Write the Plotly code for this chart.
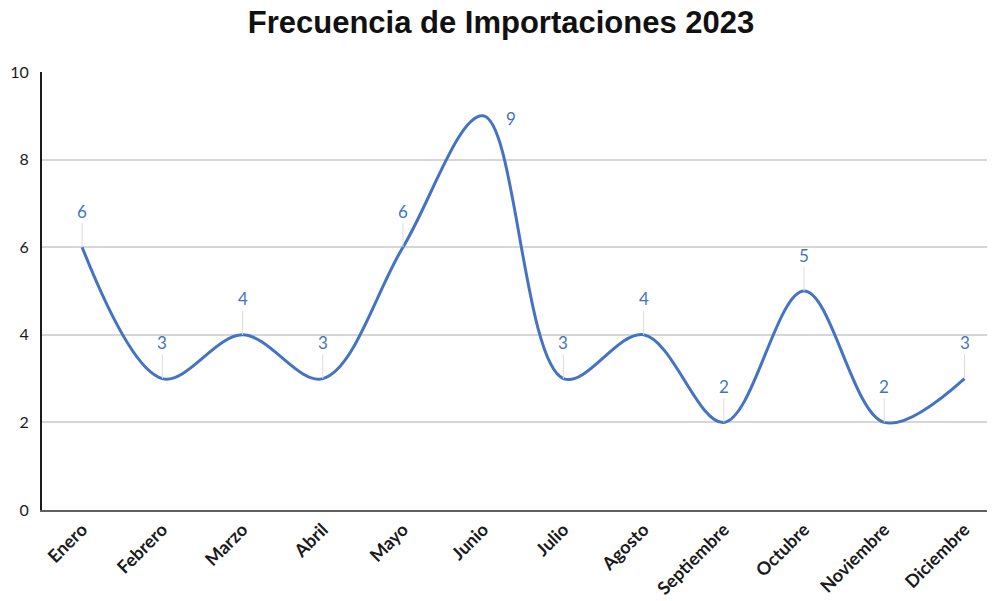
import plotly.graph_objects as go

months = ["Enero", "Febrero", "Marzo", "Abril", "Mayo", "Junio", "Julio",
          "Agosto", "Septiembre", "Octubre", "Noviembre", "Diciembre"]
values = [6, 3, 4, 3, 6, 9, 3, 4, 2, 5, 2, 3]
y_ticks = [0, 2, 4, 6, 8, 10]

BLUE = "#4472C4"

fig = go.Figure()
fig.add_trace(go.Scatter(
    x=months, y=values, mode="lines",
    line=dict(color=BLUE, width=3, shape="spline", smoothing=1.0),
    hoverinfo="x+y", showlegend=False,
))

annotations = []
for m, v in zip(months, values):
    if m == "Junio":
        annotations.append(dict(x=m, y=v, xref="x", yref="y", text=str(v),
                                showarrow=False, xshift=28, yshift=-3,
                                font=dict(family="Lato", size=17, color=BLUE)))
    else:
        annotations.append(dict(x=m, y=v, xref="x", yref="y", text=str(v),
                                showarrow=True, arrowhead=0, arrowwidth=1,
                                arrowcolor="#dcdcdc", ax=0, ay=-36, standoff=0,
                                font=dict(family="Lato", size=17, color=BLUE)))

fig.update_layout(
    width=987, height=593,
    paper_bgcolor="white", plot_bgcolor="white",
    margin=dict(l=34, r=0, t=64, b=91, autoexpand=False),
    title=dict(text="<b>Frecuencia de Importaciones 2023</b>", x=0.4995, xanchor="center",
               y=1.0, yanchor="top", pad=dict(t=3),
               font=dict(family="Liberation Sans", size=31, color="#111111")),
    xaxis=dict(type="category", range=[-0.5, 11.38], tickangle=-45, automargin=False,
               showgrid=False, showline=True, linecolor="#606060", linewidth=2,
               ticks="", tickfont=dict(family="Lato", size=18, color="#1a1a1a", weight="bold"),
               fixedrange=True),
    yaxis=dict(range=[0, 10], tickvals=y_ticks, ticktext=[str(t) for t in y_ticks],
               automargin=False,
               showgrid=True, gridcolor="#d6d6d6", gridwidth=1.5,
               showline=True, linecolor="#1a1a1a", linewidth=2, zeroline=False,
               ticks="", ticklabelstandoff=8,
               tickfont=dict(family="Lato", size=16, color="#1a1a1a"),
               fixedrange=True),
    annotations=annotations,
)

fig.write_html("out.html")
